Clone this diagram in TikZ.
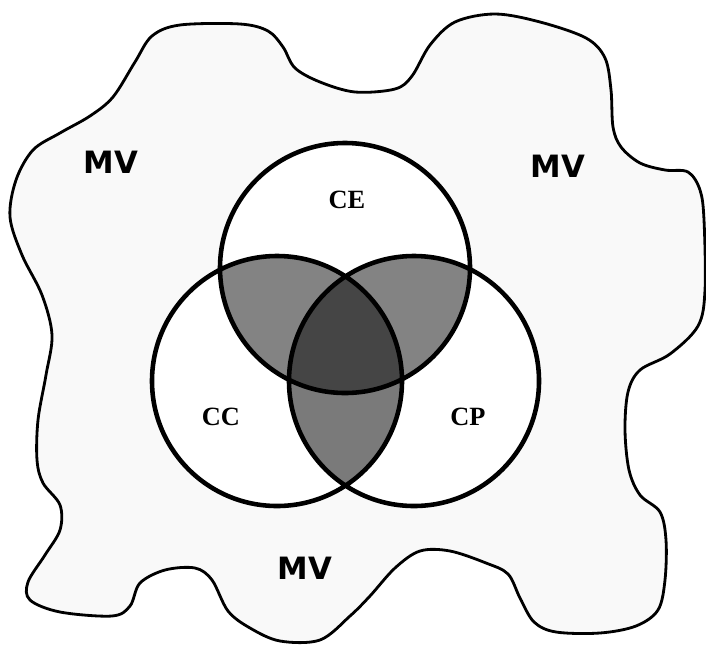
\documentclass[tikz,border=0pt]{standalone}
\usepackage{fontspec}
\setmainfont{Liberation Serif}
\newfontfamily\mvfont{DejaVu Sans}
\usetikzlibrary{positioning}
\definecolor{vennBlob}{HTML}{F9F9F9}
\definecolor{vennPair}{HTML}{838383}
\definecolor{vennPairLow}{HTML}{7A7A7A}
\definecolor{vennCore}{HTML}{454545}

\begin{document}
\begin{tikzpicture}[x=0.02cm, y=-0.02cm,
  ring/.style={line width=2.6pt},
  mvlabel/.style={font=\mvfont\bfseries\fontsize{17.5}{20}\selectfont},
  setlabel/.style={font=\bfseries\fontsize{15}{18}\selectfont}]
  \useasboundingbox (0,0) rectangle (706,646);
  \def\rad{125}

  % Universe blob
  \draw[line width=1.6pt, fill=vennBlob] plot[smooth cycle, tension=0.55] coordinates {
    (10,217) (16,180) (33,150) (60,133) (90,116) (113,97) (135,62) (152,36)
    (180,25) (240,24) (268,31) (283,47) (295,68) (320,82) (355,92) (395,89)
    (412,76) (430,45) (455,22) (495,14) (540,22) (586,38) (605,58) (611,90)
    (613,127) (621,147) (640,163) (665,170) (688,172) (700,190) (704,220)
    (705,290) (698,326) (670,354) (640,370) (628,392) (625,430) (629,470)
    (640,495) (660,512) (666,540) (665,580) (658,610) (636,626) (600,633)
    (556,632) (534,622) (520,598) (508,574) (486,563) (450,551) (420,551)
    (395,568) (370,596) (350,616) (320,640) (280,641) (250,628) (228,611)
    (212,580) (195,568) (165,570) (140,583) (130,606) (112,616) (60,612)
    (30,600) (28,582) (45,555) (60,530) (60,505) (43,483) (37,460) (38,420)
    (46,375) (52,335) (42,295) (22,255)};

  % Set centres
  \coordinate (ce) at (345,268);
  \coordinate (cc) at (277,381);
  \coordinate (cp) at (414,381);

  % White discs
  \fill[white] (ce) circle (\rad) (cc) circle (\rad) (cp) circle (\rad);

  % Pairwise overlaps
  \begin{scope}
    \clip (ce) circle (\rad);
    \fill[vennPair] (cc) circle (\rad);
    \fill[vennPair] (cp) circle (\rad);
  \end{scope}
  \begin{scope}
    \clip (cc) circle (\rad);
    \fill[vennPairLow] (cp) circle (\rad);
  \end{scope}

  % Triple overlap
  \begin{scope}
    \clip (ce) circle (\rad);
    \clip (cc) circle (\rad);
    \fill[vennCore] (cp) circle (\rad);
  \end{scope}

  % Outlines
  \draw[ring] (ce) circle (\rad) (cc) circle (\rad) (cp) circle (\rad);

  % Labels
  \node[setlabel] (labCE) at (347,200) {CE};
  \node[setlabel] (labCC) at (221,417) {CC};
  \node[setlabel] (labCP) at (468,417) {CP};
  \node[mvlabel] (mvLeft) at (111,162) {MV};
  \node[mvlabel] (mvRight) at (558,166) {MV};
  \node[mvlabel] (mvBottom) at (305,568) {MV};
\end{tikzpicture}
\end{document}
